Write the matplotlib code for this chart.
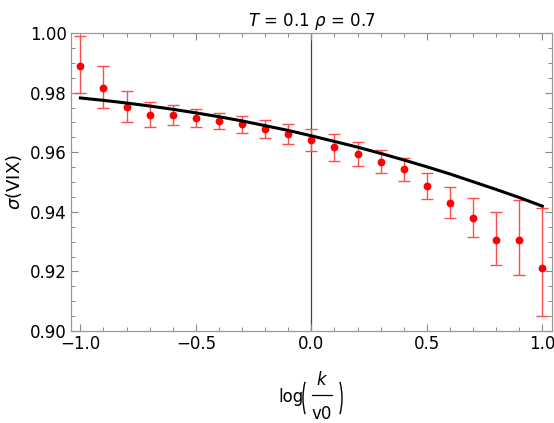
import matplotlib
matplotlib.use("Agg")
import matplotlib.pyplot as plt
from matplotlib.ticker import MultipleLocator
from matplotlib.patches import Arc
from matplotlib.lines import Line2D

# 数据点
x_pts = [-1.0, -0.9, -0.8, -0.7, -0.6, -0.5, -0.4, -0.3, -0.2, -0.1, 0.0,
         0.1, 0.2, 0.3, 0.4, 0.5, 0.6, 0.7, 0.8, 0.9, 1.0]
y_pts = [0.9889, 0.9817, 0.9753, 0.9725, 0.9725, 0.9715, 0.9706, 0.9693, 0.9679, 0.9661, 0.9642,
         0.9617, 0.9594, 0.9568, 0.9542, 0.9487, 0.9431, 0.9380, 0.9306, 0.9306, 0.9212]
y_hi = [0.9990, 0.9889, 0.9806, 0.9767, 0.9758, 0.9744, 0.9733, 0.9720, 0.9707, 0.9693, 0.9679,
        0.9662, 0.9634, 0.9607, 0.9581, 0.9531, 0.9483, 0.9447, 0.9400, 0.9440, 0.9412]
y_lo = [0.9800, 0.9750, 0.9701, 0.9684, 0.9690, 0.9684, 0.9677, 0.9663, 0.9649, 0.9629, 0.9603,
        0.9572, 0.9553, 0.9529, 0.9502, 0.9443, 0.9380, 0.9316, 0.9220, 0.9188, 0.9051]

# 黑色曲线
x_line = x_pts
y_line = [0.9782, 0.9774, 0.9765, 0.9755, 0.9744, 0.9732, 0.9719, 0.9705, 0.9689, 0.9673, 0.9655,
          0.9636, 0.9617, 0.9596, 0.9574, 0.9551, 0.9527, 0.9501, 0.9475, 0.9448, 0.9419]

plt.rcParams['font.family'] = ['DejaVu Sans']
plt.rcParams['mathtext.fontset'] = 'dejavusans'

W, H = 554, 423
fig = plt.figure(figsize=(W / 100, H / 100), dpi=100)
ax = fig.add_axes([70.7 / W, 1 - 331 / H, (552 - 70.7) / W, (331 - 33) / H])

ax.axvline(0, color='#444444', lw=0.9, zorder=1)

err_lo = [y - l for y, l in zip(y_pts, y_lo)]
err_hi = [h - y for y, h in zip(y_pts, y_hi)]
ax.errorbar(x_pts, y_pts, yerr=[err_lo, err_hi], fmt='o', color='red', ecolor=(1, 0.3, 0.3),
            markersize=4.6, elinewidth=1.0, capsize=4, capthick=1.0, zorder=2)
ax.plot(x_line, y_line, color='black', lw=2.2, zorder=3)

ax.set_xlim(-1.042, 1.042)
ax.set_ylim(0.90, 1.00)
ax.xaxis.set_major_locator(MultipleLocator(0.5))
ax.xaxis.set_minor_locator(MultipleLocator(0.1))
ax.yaxis.set_major_locator(MultipleLocator(0.02))
ax.yaxis.set_minor_locator(MultipleLocator(0.005))
ax.xaxis.set_major_formatter(plt.FuncFormatter(lambda v, p: f"{v:.1f}".replace('-', '\u2212')))
ax.yaxis.set_major_formatter(plt.FuncFormatter(lambda v, p: f"{v:.2f}"))

ax.tick_params(which='both', direction='in', top=True, right=True, color='#888888',
               labelsize=12, pad=3)
ax.tick_params(which='major', length=5, width=0.8)
ax.tick_params(which='minor', length=2.8, width=0.7)
for s in ax.spines.values():
    s.set_color('#999999')
    s.set_linewidth(0.9)

ax.set_title(r'$T$ = 0.1 $\rho$ = 0.7', fontsize=12, pad=5)
ax.set_ylabel(r'$\sigma$(VIX)', fontsize=13, labelpad=4)


# x轴标签 log(k/v0)，按像素位置摆放
def px(x, y):
    return x / W, 1 - y / H


fig.text(*px(291, 402), 'log', fontsize=12, ha='center', va='baseline')
fig.text(*px(322, 385), r'$k$', fontsize=12, ha='center', va='baseline')
fig.text(*px(322, 419), 'v0', fontsize=12, ha='center', va='baseline')
bx0, by = px(311.5, 395)
bx1, _ = px(332, 395)
fig.add_artist(Line2D([bx0, bx1], [by, by], transform=fig.transFigure, color='black', lw=0.9))
cxl, cy = px(315, 398)
cxr, _ = px(330, 398)
fig.add_artist(Arc((cxl, cy), 24 / W, 57 / H, theta1=115, theta2=245,
                   transform=fig.transFigure, color='black', lw=1.0))
fig.add_artist(Arc((cxr, cy), 24 / W, 57 / H, theta1=-65, theta2=65,
                   transform=fig.transFigure, color='black', lw=1.0))

plt.savefig('out.png', dpi=100)
